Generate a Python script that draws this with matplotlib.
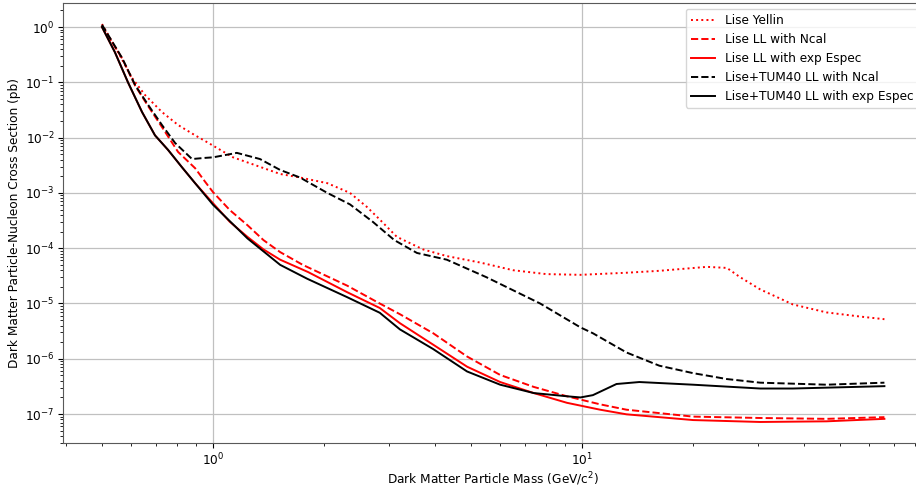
import numpy as np
from matplotlib import pyplot as plt
import matplotlib.ticker as ticker

plt.rcParams['font.size'] = 8.7
plt.rcParams['xtick.major.pad'] = 2.5
plt.rcParams['ytick.major.pad'] = 2.5

# Lise Yellin limit
m_yellin = [0.5, 0.553, 0.603, 0.654, 0.727, 0.804, 0.894, 0.951, 1.133, 1.52, 1.72, 2.04,
            2.35, 2.61, 2.83, 3.15, 3.71, 4.3, 5.3, 6.5, 8.0, 9.9, 13.2, 16.2, 21.8, 24.7,
            26.8, 30.4, 37.3, 46.0, 56.8, 66.0]
s_yellin = [1.13, 0.35, 0.12, 0.059, 0.029, 0.0169, 0.011, 8.7e-3, 4.4e-3, 2.2e-3, 1.9e-3,
            1.5e-3, 1.0e-3, 5.6e-4, 3.3e-4, 1.6e-4, 9.5e-5, 7.2e-5, 5.5e-5, 4.0e-5, 3.4e-5,
            3.3e-5, 3.6e-5, 3.9e-5, 4.6e-5, 4.4e-5, 3.0e-5, 1.8e-5, 9.6e-6, 6.9e-6, 5.8e-6,
            5.2e-6]

# Lise LL with Ncal
m_lise_ncal = [0.5, 0.567, 0.615, 0.667, 0.727, 0.804, 0.894, 0.951, 1.0, 1.11, 1.24, 1.37,
               1.52, 1.75, 2.31, 2.83, 3.21, 3.95, 4.88, 6.0, 7.4, 9.1, 11.2, 13.2, 20.0,
               30.4, 46.0, 66.0]
s_lise_ncal = [1.05, 0.27, 0.087, 0.037, 0.0155, 5.5e-3, 2.8e-3, 1.6e-3, 1.03e-3, 4.9e-4,
               2.6e-4, 1.4e-4, 8.5e-5, 5.0e-5, 2.1e-5, 1.0e-5, 6.4e-6, 2.9e-6, 1.1e-6,
               5.1e-7, 3.1e-7, 2.1e-7, 1.5e-7, 1.2e-7, 9.0e-8, 8.5e-8, 8.2e-8, 8.8e-8]

# Lise LL with exp Espec
m_lise_espec = [0.5, 0.542, 0.588, 0.642, 0.696, 0.755, 0.824, 0.894, 1.0, 1.11, 1.24,
                1.37, 1.52, 1.81, 2.31, 2.83, 3.21, 3.95, 4.88, 6.0, 7.4, 9.1, 11.2, 13.2,
                20.0, 30.4, 46.0, 66.0]
s_lise_espec = [1.0, 0.35, 0.10, 0.029, 0.011, 6.0e-3, 2.9e-3, 1.5e-3, 6.5e-4, 3.0e-4,
                1.6e-4, 9.5e-5, 6.2e-5, 3.7e-5, 1.6e-5, 8.3e-6, 4.4e-6, 1.8e-6, 7.2e-7,
                3.8e-7, 2.4e-7, 1.6e-7, 1.2e-7, 9.9e-8, 7.8e-8, 7.2e-8, 7.4e-8, 8.2e-8]

# Lise+TUM40 LL with Ncal
m_comb_ncal = [0.5, 0.567, 0.615, 0.667, 0.727, 0.789, 0.877, 0.951, 1.0, 1.16, 1.34, 1.52,
               1.72, 2.04, 2.35, 2.71, 3.10, 3.57, 4.3, 5.5, 7.7, 9.9, 10.7, 13.2, 16.2,
               20.0, 24.7, 30.4, 46.0, 66.0]
s_comb_ncal = [1.1, 0.275, 0.089, 0.039, 0.0169, 8.0e-3, 4.1e-3, 4.3e-3, 4.4e-3, 5.3e-3,
               4.1e-3, 2.6e-3, 1.9e-3, 1.0e-3, 6.2e-4, 3.0e-4, 1.4e-4, 8.2e-5, 6.2e-5,
               3.0e-5, 1.0e-5, 3.7e-6, 2.9e-6, 1.3e-6, 7.5e-7, 5.5e-7, 4.3e-7, 3.7e-7,
               3.4e-7, 3.7e-7]

# Lise+TUM40 LL with exp Espec
m_comb_espec = [0.5, 0.542, 0.588, 0.642, 0.696, 0.755, 0.824, 0.894, 1.0, 1.24, 1.52,
                1.80, 2.31, 2.83, 3.21, 3.95, 4.88, 6.0, 7.4, 9.1, 9.9, 10.7, 12.4, 14.3,
                20.0, 30.4, 37.3, 66.0]
s_comb_espec = [1.0, 0.35, 0.10, 0.029, 0.011, 6.0e-3, 2.9e-3, 1.5e-3, 6.1e-4, 1.5e-4,
                5.0e-5, 2.8e-5, 1.3e-5, 6.8e-6, 3.4e-6, 1.5e-6, 5.9e-7, 3.4e-7, 2.4e-7,
                2.1e-7, 2.0e-7, 2.2e-7, 3.5e-7, 3.8e-7, 3.4e-7, 2.9e-7, 2.9e-7, 3.2e-7]

fig = plt.figure(figsize=(9.16, 4.9), dpi=100)
# axes run a bit past the right edge of the picture, like the cropped original
ax = fig.add_axes([63/916, 47/490, 861/916, 440/490])

ax.plot(m_yellin, s_yellin, "r:", lw=1.4, label="Lise Yellin")
ax.plot(m_lise_ncal, s_lise_ncal, "r--", lw=1.4, label="Lise LL with Ncal")
ax.plot(m_lise_espec, s_lise_espec, "r-", lw=1.4, label="Lise LL with exp Espec")
ax.plot(m_comb_ncal, s_comb_ncal, "k--", lw=1.4, label="Lise+TUM40 LL with Ncal")
ax.plot(m_comb_espec, s_comb_espec, "k-", lw=1.4, label="Lise+TUM40 LL with exp Espec")

ax.set_xscale("log")
ax.set_yscale("log")
ax.set_xlim(0.392, 84.5)
ax.set_ylim(3.0e-8, 2.72)
ax.xaxis.set_minor_formatter(ticker.NullFormatter())
ax.yaxis.set_minor_formatter(ticker.NullFormatter())
ax.grid(True, which="major", color="#c0c0c0", lw=0.9)
ax.set_axisbelow(True)
for sp in ax.spines.values():
    sp.set_color("0.35")

ax.set_xlabel("Dark Matter Particle Mass (GeV/c$^2$)", labelpad=2)
ax.set_ylabel("Dark Matter Particle-Nucleon Cross Section (pb)", labelpad=3)
ax.legend(loc="upper right")

fig.savefig("out.png", dpi=100)
